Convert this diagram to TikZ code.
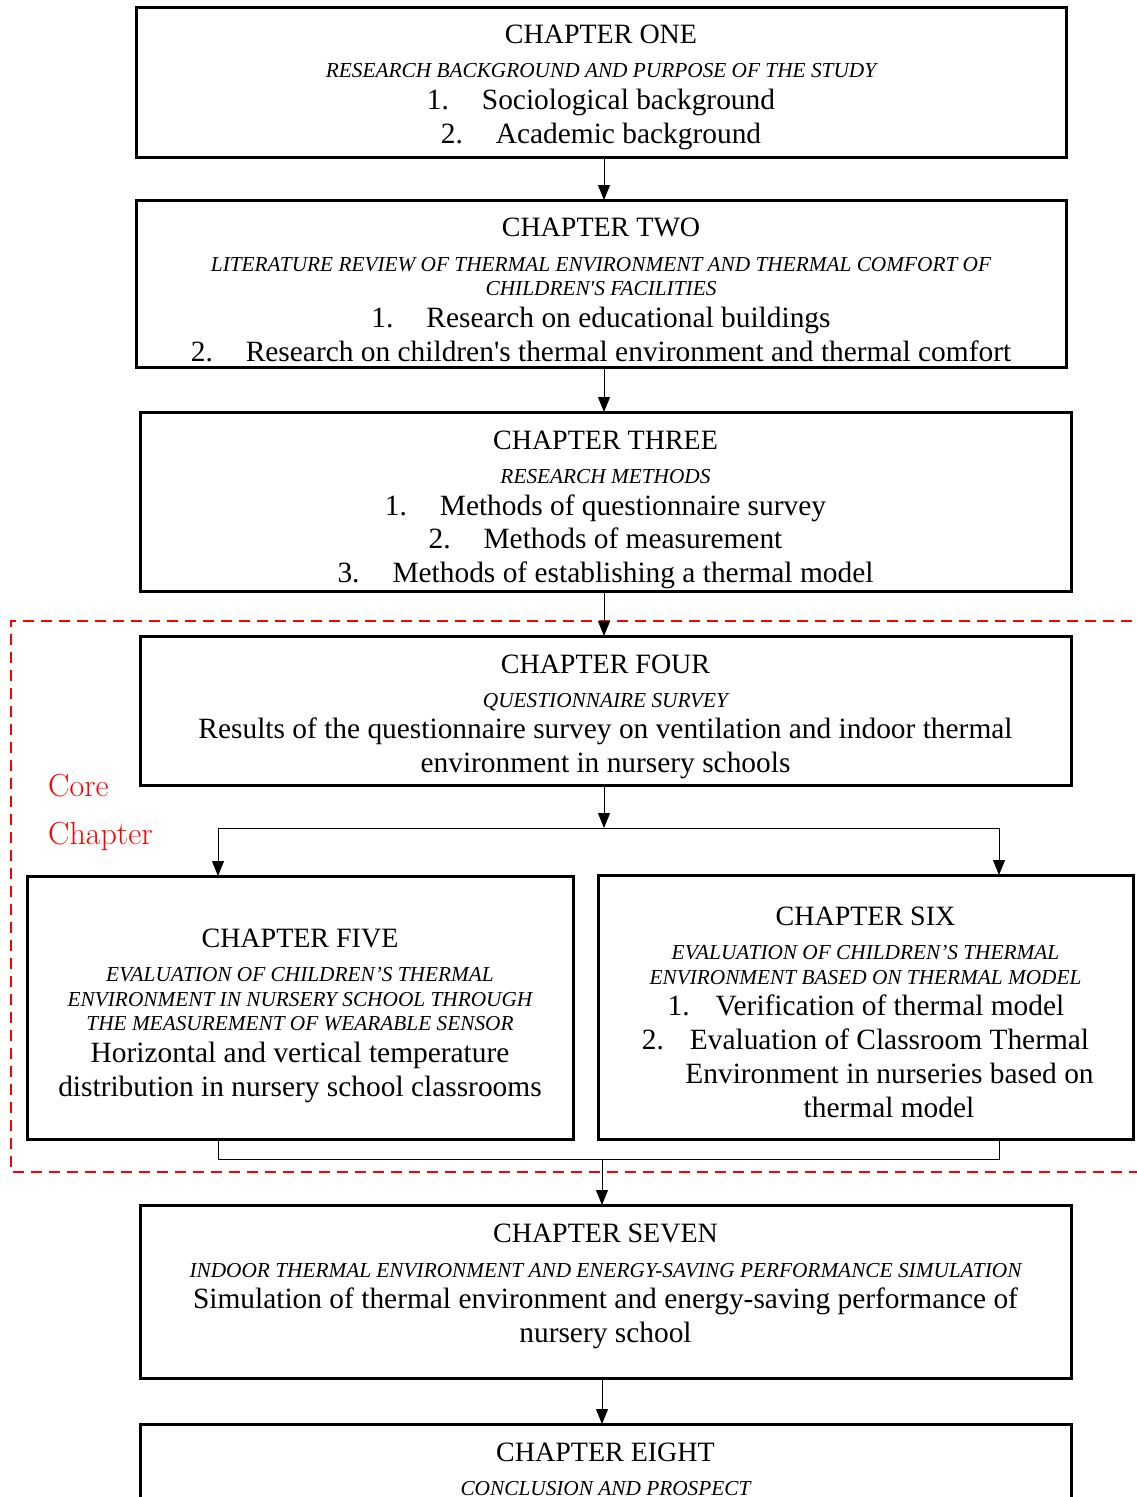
\documentclass[tikz,border=0pt]{standalone}
\usepackage{fontspec}
\newfontfamily\tnr{Liberation Serif}
\usetikzlibrary{arrows.meta}
\begin{document}
\begin{tikzpicture}[x=1pt,y=-1pt,
  chbox/.style={draw, line width=3pt, inner sep=0pt, outer sep=0pt, anchor=north west},
  hd/.style={font=\tnr\fontsize{28}{33}\selectfont, inner sep=0pt, text height=0.66em, text depth=0pt, yshift=-6pt},
  sub/.style={font=\tnr\itshape\fontsize{21.3}{25}\selectfont, inner sep=0pt, text height=0.66em, text depth=0pt, yshift=-4pt},
  body/.style={font=\tnr\fontsize{29.4}{34}\selectfont, inner sep=0pt, text height=0.66em, text depth=0.2em, yshift=-7pt},
  core/.style={font=\fontsize{32}{36}\selectfont, text=red, inner sep=0pt, anchor=west, text height=0.68em, text depth=0pt, yshift=-6pt},
  arr/.style={-{Triangle[length=15pt,width=12pt]}, line width=1pt},
  conn/.style={line width=1pt}]
\useasboundingbox (0,0) rectangle (1137,1497);
\clip (0,0) rectangle (1137,1497);
\fill[white] (0,0) rectangle (1137,1497);
\newcommand{\num}[1]{\makebox[55pt][l]{#1}}

% boxes
\node[chbox, minimum width=930pt, minimum height=150pt] (c1) at (136,7) {};
\node[chbox, minimum width=930pt, minimum height=167pt] (c2) at (136,200) {};
\node[chbox, minimum width=931pt, minimum height=179pt] (c3) at (140,412) {};
\node[chbox, minimum width=931pt, minimum height=149pt] (c4) at (140,636) {};
\node[chbox, minimum width=546pt, minimum height=263pt] (c5) at (27,876) {};
\node[chbox, minimum width=535pt, minimum height=264pt] (c6) at (598,875) {};
\node[chbox, minimum width=931pt, minimum height=173pt] (c7) at (140,1205) {};
\node[chbox, minimum width=931pt, minimum height=140pt] (c8) at (140,1424) {};

% chapter one
\node[hd] (t1a) at (601,34) {CHAPTER ONE};
\node[sub] (t1b) at (601,70) {RESEARCH BACKGROUND AND PURPOSE OF THE STUDY};
\node[body] (t1c) at (601,100) {\num{1.}Sociological background};
\node[body] (t1d) at (601,134) {\num{2.}Academic background};

% chapter two
\node[hd] (t2a) at (601,227) {CHAPTER TWO};
\node[sub] (t2b) at (601,264) {LITERATURE REVIEW OF THERMAL ENVIRONMENT AND THERMAL COMFORT OF};
\node[sub] (t2c) at (601,288) {CHILDREN'S FACILITIES};
\node[body] (t2d) at (601,318) {\num{1.}Research on educational buildings};
\node[body] (t2e) at (601,352) {\num{2.}Research on children's thermal environment and thermal comfort};

% chapter three
\node[hd] (t3a) at (605.5,440) {CHAPTER THREE};
\node[sub] (t3b) at (605.5,476) {RESEARCH METHODS};
\node[body] (t3c) at (605.5,506) {\num{1.}Methods of questionnaire survey};
\node[body] (t3d) at (605.5,539) {\num{2.}Methods of measurement};
\node[body] (t3e) at (605.5,573) {\num{3.}Methods of establishing a thermal model};

% chapter four
\node[hd] (t4a) at (605.5,664) {CHAPTER FOUR};
\node[sub] (t4b) at (605.5,700) {QUESTIONNAIRE SURVEY};
\node[body] (t4c) at (605.5,729) {Results of the questionnaire survey on ventilation and indoor thermal};
\node[body] (t4d) at (605.5,763) {environment in nursery schools};

% chapter five
\node[hd] (t5a) at (300,938) {CHAPTER FIVE};
\node[sub] (t5b) at (300,974) {EVALUATION OF CHILDREN’S THERMAL};
\node[sub] (t5c) at (300,999) {ENVIRONMENT IN NURSERY SCHOOL THROUGH};
\node[sub] (t5d) at (300,1023) {THE MEASUREMENT OF WEARABLE SENSOR};
\node[body] (t5e) at (300,1053) {Horizontal and vertical temperature};
\node[body] (t5f) at (300,1087) {distribution in nursery school classrooms};

% chapter six
\node[hd] (t6a) at (865.5,916) {CHAPTER SIX};
\node[sub] (t6b) at (865.5,952) {EVALUATION OF CHILDREN’S THERMAL};
\node[sub] (t6c) at (865.5,977) {ENVIRONMENT BASED ON THERMAL MODEL};
\node[body] (t6d) at (866,1006) {\makebox[48pt][l]{1.}Verification of thermal model};
\node[body] (t6e) at (865.5,1040) {\makebox[48pt][l]{2.}Evaluation of Classroom Thermal};
\node[body] (t6f) at (889.5,1074) {Environment in nurseries based on};
\node[body] (t6g) at (889,1108) {thermal model};

% chapter seven
\node[hd] (t7a) at (605.5,1233) {CHAPTER SEVEN};
\node[sub] (t7b) at (605.5,1270) {INDOOR THERMAL ENVIRONMENT AND ENERGY-SAVING PERFORMANCE SIMULATION};
\node[body] (t7c) at (605.5,1299) {Simulation of thermal environment and energy-saving performance of};
\node[body] (t7d) at (605.5,1333) {nursery school};

% chapter eight
\node[hd] (t8a) at (605.5,1452) {CHAPTER EIGHT};
\node[sub] (t8b) at (605.5,1488) {CONCLUSION AND PROSPECT};

% core chapter frame
\draw[red, line width=2.5pt, dash pattern=on 11pt off 7pt] (1150,621) -- (11,621) -- (11,1172) -- (1150,1172);
\node[core] (corea) at (48,787) {Core};
\node[core] (coreb) at (48,835) {Chapter};

% connectors
\coordinate (sp) at (604,828);
\coordinate (lt) at (218,828);
\coordinate (rt) at (999,828);
\draw[arr] (c1.south -| sp) -- (c2.north -| sp);
\draw[arr] (c2.south -| sp) -- (c3.north -| sp);
\draw[arr] (c3.south -| sp) -- (c4.north -| sp);
\draw[arr] (c4.south -| sp) -- (sp);
\draw[conn] (lt) -- (rt);
\draw[arr] (lt) -- (lt |- c5.north);
\draw[arr] (rt) -- (rt |- c6.north);
\coordinate (lb) at (218,1159);
\coordinate (rb) at (999,1159);
\coordinate (mb) at (602,1159);
\draw[conn] (lb |- c5.south) -- (lb) -- (rb) -- (rb |- c6.south);
\draw[arr] (mb) -- (mb |- c7.north);
\draw[arr] (c7.south -| mb) -- (mb |- c8.north);
\end{tikzpicture}
\end{document}
